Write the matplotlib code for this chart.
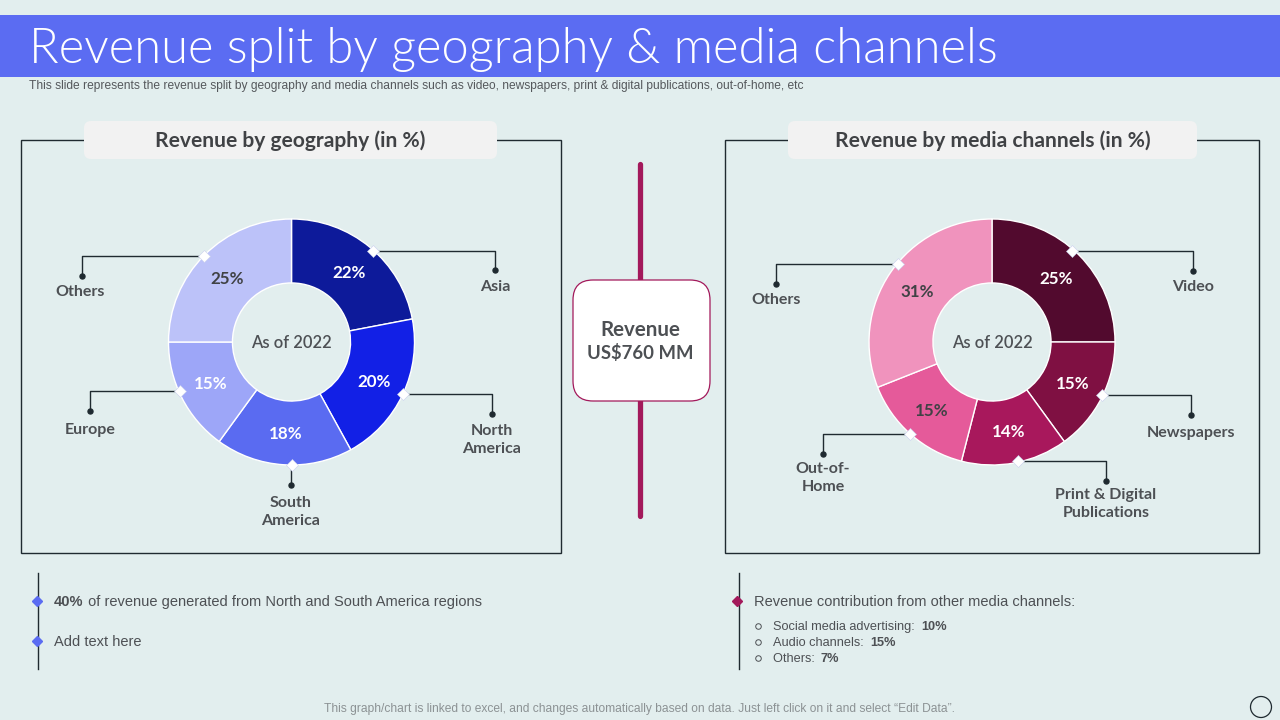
import matplotlib
matplotlib.use('Agg')
import matplotlib.pyplot as plt
from matplotlib.patches import Rectangle, FancyBboxPatch, Circle

W, H = 1280, 720
BG = '#e2eeee'
BLUE = '#5b6cf2'
MAGENTA = '#a3195b'
DARK = '#1f2a30'
GREY = '#4d5054'

# chart data
geo_names = ['Asia', 'North\nAmerica', 'South\nAmerica', 'Europe', 'Others']
geo_values = [22, 20, 18, 15, 25]
geo_colors = ['#0d1a9a', '#1220e6', '#5a6bf1', '#9da6f8', '#bcc2f9']
geo_text = ['white', 'white', 'white', 'white', '#404245']

media_names = ['Video', 'Newspapers', 'Print & Digital\nPublications', 'Out-of-\nHome', 'Others']
media_values = [25, 15, 14, 15, 31]
media_colors = ['#520a2e', '#7f1042', '#a8185c', '#e55a9a', '#f093bd']
media_text = ['white', 'white', 'white', '#404245', '#404245']

# leader layout, pixels: diamond x, diamond y, end x, end y, label x, label y
geo_leaders = [(373, 251, 495, 270, 495, 287), (403, 394, 492, 414, 492, 440),
               (292, 465, 291, 485, 291, 512), (180, 391, 90, 411, 90, 430),
               (204, 256, 82, 276, 80, 292)]
media_leaders = [(1072, 251, 1193, 271, 1193, 287), (1102, 395, 1191, 415, 1191, 433),
                 (1018, 461, 1106, 481, 1106, 504), (910, 434, 823, 454, 823, 478),
                 (898, 264, 776, 284, 776, 300)]

fig = plt.figure(figsize=(W / 100, H / 100), dpi=100, facecolor=BG)
bg = fig.add_axes([0, 0, 1, 1])
bg.set_xlim(0, W)
bg.set_ylim(H, 0)
bg.axis('off')


def px(size):
    return size * 0.72


def rounded(x0, y0, x1, y1, r, fc, ec='none', lw=0, z=3):
    bg.add_patch(FancyBboxPatch((x0 + r, y0 + r), x1 - x0 - 2 * r, y1 - y0 - 2 * r,
                                boxstyle='round,pad=%f,rounding_size=%f' % (r, r),
                                fc=fc, ec=ec, lw=lw, zorder=z))


# header
bg.add_patch(Rectangle((0, 15), W, 62, fc=BLUE, ec='none'))
bg.text(29, 50, 'Revenue split by geography & media channels', color='white', family='Lato',
        weight=300, fontsize=px(48.9), va='center', ha='left')
bg.text(29, 85.5, 'This slide represents the revenue split by geography and media channels such as video, '
        'newspapers, print & digital publications, out-of-home, etc',
        color='#55585c', family='Liberation Sans', fontsize=px(12), va='center', ha='left')

# panels
for x0, x1, bx0, bx1, title in [(21, 561, 84, 497, 'Revenue by geography (in %)'),
                                (725, 1259, 788, 1197, 'Revenue by media channels (in %)')]:
    bg.add_patch(Rectangle((x0, 140), x1 - x0, 413, fc='none', ec=DARK, lw=1.0, zorder=2))
    rounded(bx0, 121, bx1, 159, 7, '#f2f2f2')
    bg.text((bx0 + bx1) / 2, 141, title, color='#404245', family='Lato', weight='bold',
            fontsize=px(21), ha='center', va='center', zorder=4)

# centre revenue box
bg.plot([640, 640], [164, 516], color=MAGENTA, lw=3.8, solid_capstyle='round', zorder=2)
rounded(573, 280, 710, 401, 20, 'white', MAGENTA, 0.9)
bg.text(640.5, 330, 'Revenue', color=GREY, family='Lato', weight='bold', fontsize=px(20.5),
        ha='center', va='center', zorder=4)
bg.text(640.5, 353, 'US$760 MM', color=GREY, family='Lato', weight='bold', fontsize=px(18.5),
        ha='center', va='center', zorder=4)


def donut(cx, values, colors, text_colors):
    r = 123
    ax = fig.add_axes([(cx - r) / W, 1 - (342 + r) / H, 2 * r / W, 2 * r / H])
    wedges, _, pcts = ax.pie(values, colors=colors, startangle=90, counterclock=False, radius=1,
                             autopct='%.0f%%', pctdistance=0.74,
                             wedgeprops=dict(width=0.52, edgecolor='white', linewidth=1.0))
    for t, c in zip(pcts, text_colors):
        t.set_color(c)
        t.set_fontfamily('Lato')
        t.set_fontweight('bold')
        t.set_fontsize(px(17))
        t.set_y(t.get_position()[1] - 1 / r)
    ax.set_xlim(-1, 1)
    ax.set_ylim(-1, 1)
    ax.text(0, -1 / r, 'As of 2022', color=GREY, family='Lato', fontsize=px(16.5), weight='semibold',
            ha='center', va='center')


donut(291.5, geo_values, geo_colors, geo_text)
donut(992, media_values, media_colors, media_text)

# leaders drawn on a transparent overlay above the donuts
over = fig.add_axes([0, 0, 1, 1], facecolor='none')
over.set_xlim(0, W)
over.set_ylim(H, 0)
over.axis('off')
for names, leaders in [(geo_names, geo_leaders), (media_names, media_leaders)]:
    for name, (dx, dy, ex, ey, lx, ly) in zip(names, leaders):
        over.plot([dx, ex, ex], [dy, dy, ey], color=DARK, lw=1.0, zorder=3)
        over.plot([ex], [ey], 'o', color=DARK, ms=3.6, zorder=3)
        over.plot([dx], [dy], 'D', color='white', mec='#c9d0ee', mew=0.4, ms=6, zorder=4)
        over.text(lx, ly, name, color=GREY, family='Lato', weight='bold', fontsize=px(16),
                  ha='center', va='center', linespacing=1.35)

# bottom notes
bg.plot([38, 38], [573, 669], color=DARK, lw=1.0)
bg.plot([739, 739], [573, 669], color=DARK, lw=1.0)
for x, y, c in [(37, 601, BLUE), (37, 641, BLUE), (737, 601, MAGENTA)]:
    bg.plot([x], [y], 'D', color=c, ms=5, zorder=4)


def mixed(x, y, parts, size):
    # run of normal and bold text on one baseline
    rend = fig.canvas.get_renderer()
    for s, weight in parts:
        t = bg.text(x, y, s, color=GREY, family='Liberation Sans', weight=weight,
                    fontsize=px(size), va='baseline', ha='left')
        box = t.get_window_extent(rend)
        x = x + box.width + (px(size) * 0.28 if s.endswith(' ') else 0)


mixed(54, 606, [('40%', 'bold'), (' of revenue generated from North and South America regions', 'normal')], 14.6)
mixed(54, 646, [('Add text here', 'normal')], 14.6)
mixed(754, 606, [('Revenue contribution from other media channels:', 'normal')], 14.6)

sub_labels = ['Social media advertising: ', 'Audio channels: ', 'Others: ']
sub_values = ['10%', '15%', '7%']
for y, lab, val in zip([630, 646, 662], sub_labels, sub_values):
    bg.plot([758], [y - 4], 'o', mfc='none', mec=GREY, mew=0.7, ms=4)
    mixed(773, y, [(lab, 'normal'), (val, 'bold')], 12.7)

# footer
bg.text(639, 709, 'This graph/chart is linked to excel, and changes automatically based on data. '
        'Just left click on it and select \u201cEdit Data\u201d.',
        color='#8c9294', family='Liberation Sans', fontsize=px(12), ha='center', va='center')
bg.add_patch(Circle((1261, 707), 10.5, fc='none', ec=DARK, lw=0.9))

fig.savefig('out.png', dpi=100, facecolor=BG)
